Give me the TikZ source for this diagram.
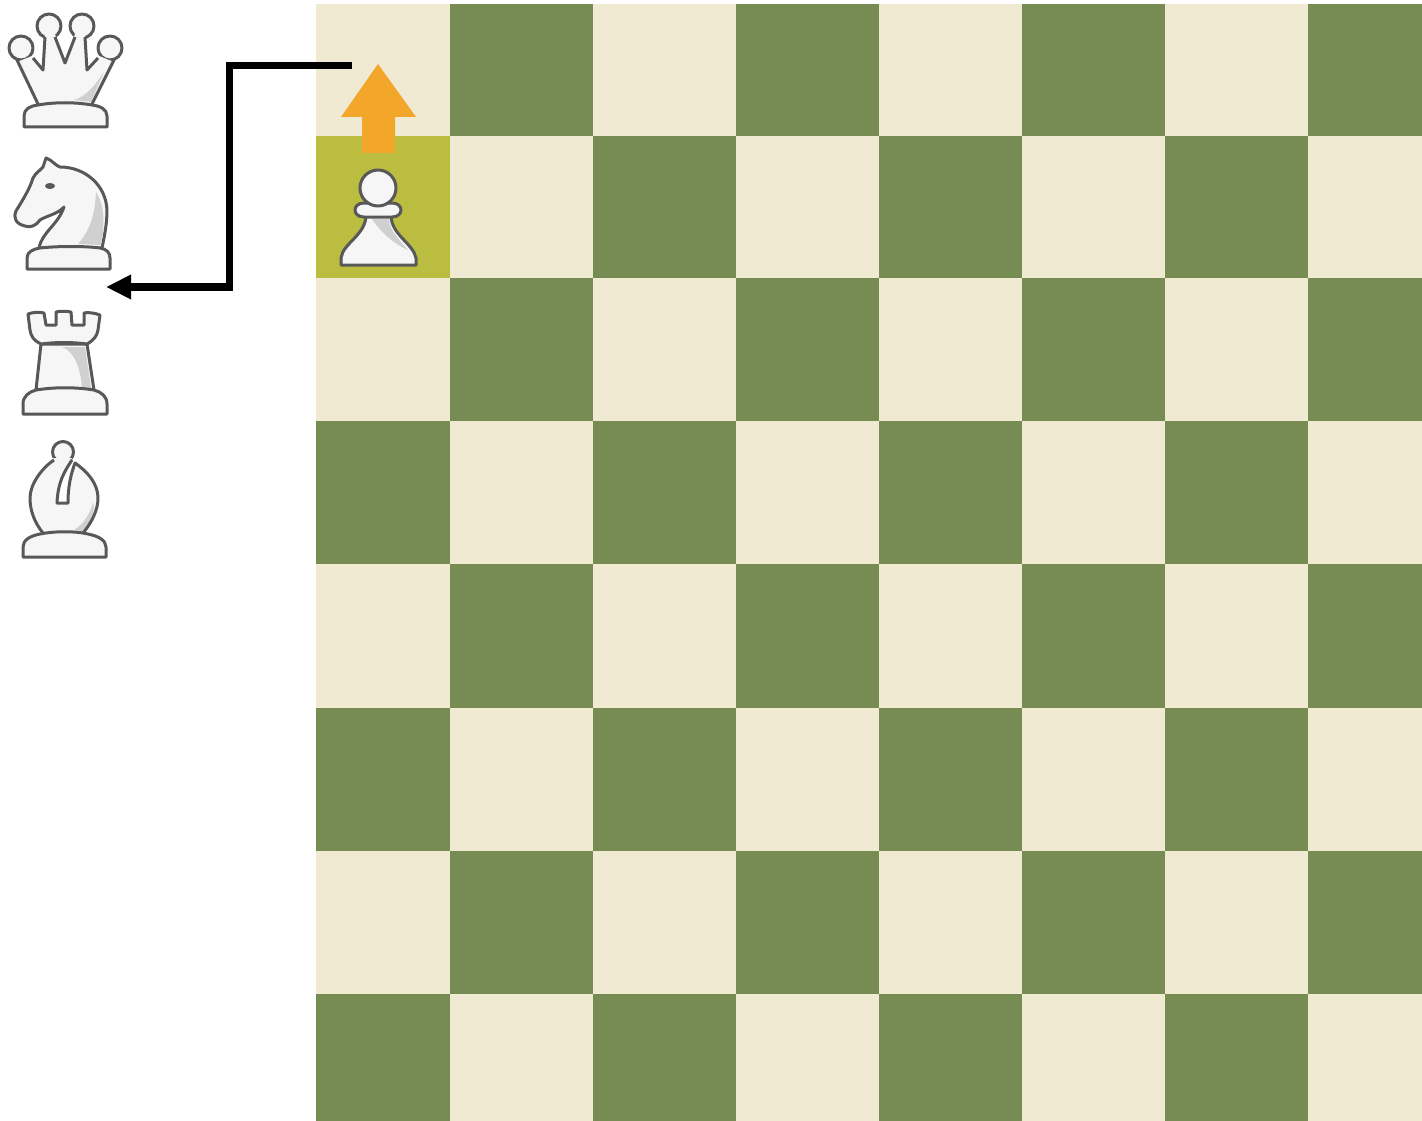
\documentclass[tikz,border=0pt]{standalone}
\usepackage{xcolor}
\usetikzlibrary{arrows.meta}
\definecolor{BoardLight}{RGB}{240,234,211}
\definecolor{BoardDark}{RGB}{118,140,83}
\definecolor{BoardMark}{RGB}{187,189,64}
\definecolor{MoveOrange}{RGB}{242,166,42}
\definecolor{PieceFill}{RGB}{246,246,246}
\definecolor{PieceEdge}{RGB}{88,88,88}
\definecolor{PieceShade}{RGB}{208,208,208}

\begin{document}
\begin{tikzpicture}[
x=1pt,
y=-1pt,
piece/.style={
draw=PieceEdge,
fill=PieceFill,
line width=3pt,
line join=round
},
pieceline/.style={
draw=PieceEdge,
line width=3pt,
line join=round
},
pieceshade/.style={
fill=PieceShade
},
link/.style={
draw=black,
line width=7.5pt,
line join=miter,
-{Triangle[length=25pt,width=23pt]}
}
]
\useasboundingbox (0,0) rectangle (1422,1121);
\fill[white] (0,0) rectangle (1422,1121);

% board
\fill[BoardLight] (316,4) rectangle (1422,1121);
\foreach \col/\xa/\xb in {0/316/450,1/450/593,2/593/736,3/736/879,4/879/1022,5/1022/1165,6/1165/1308,7/1308/1422} {
\foreach \row/\ya/\yb in {0/4/136,1/136/278,2/278/421,3/421/564,4/564/708,5/708/851,6/851/994,7/994/1121} {
\pgfmathparse{int(mod(\col+\row,2))}
\ifnum\pgfmathresult=1
\fill[BoardDark] (\xa,\ya) rectangle (\xb,\yb);
\fi
}
}
\fill[BoardMark] (316,136) rectangle (450,278);

% move arrow
\fill[MoveOrange] (378,64) -- (416,117) -- (395,117) -- (395,153) -- (362,153) -- (362,117) -- (341,117) -- cycle;

% pawn
\path[piece] (366,215) .. controls (366,235) and (343,243) .. (341,258) -- (341,265) -- (416,265) -- (416,258) .. controls (413,243) and (391,235) .. (391,215) -- cycle;
\fill[pieceshade] (372,219) -- (389,219) .. controls (390,232) and (400,240) .. (408,250) .. controls (396,245) and (382,234) .. (372,219) -- cycle;
\path[piece] (364,203) -- (392,203) .. controls (404,203) and (404,217) .. (392,217) -- (364,217) .. controls (352,217) and (352,203) .. (364,203) -- cycle;
\path[piece] (378,188) circle[radius=18];

% queen
\foreach \ballx/\bally in {21/48,49/26,82/26,110/48} {
\path[piece] (\ballx,\bally) circle[radius=12];
}
\fill[PieceFill] (38,104) -- (17,62) -- (32,56) -- (43,70) -- (45,34) -- (55,34) -- (65,63) -- (75,34) -- (85,34) -- (87,70) -- (99,56) -- (114,62) -- (92,104) -- cycle;
\fill[pieceshade] (74,100) .. controls (88,96) and (97,82) .. (104,72) -- (91,102) -- cycle;
\path[pieceline] (38,104) -- (17,60) (33,58) -- (43,70) -- (45,37) (55,37) -- (65,63) -- (75,37) (85,37) -- (87,70) -- (98,58) (114,60) -- (92,104);
\path[piece] (24,127) -- (24,116) .. controls (24,109) and (30,106) .. (38,105) .. controls (55,102) and (75,102) .. (92,105) .. controls (100,106) and (107,109) .. (107,116) -- (107,127) -- cycle;

% knight
\path[piece] (39,248) .. controls (42,232) and (58,225) .. (64,207) .. controls (58,214) and (46,216) .. (40,220) .. controls (36,226) and (30,228) .. (25,226) .. controls (16,224) and (13,218) .. (16,211) .. controls (24,198) and (30,188) .. (33,178) .. controls (36,172) and (41,170) .. (43,167) -- (46,158) .. controls (52,160) and (56,166) .. (60,167) .. controls (85,167) and (106,185) .. (107,210) .. controls (107,225) and (104,238) .. (102,248) -- cycle;
\fill[pieceshade] (78,244) .. controls (90,230) and (95,215) .. (96,192) .. controls (103,203) and (106,220) .. (101,245) -- cycle;
\fill[PieceEdge] (50,186) ellipse[x radius=5,y radius=3];
\path[piece] (27,269) -- (27,258) .. controls (27,252) and (33,249) .. (40,248) .. controls (58,246) and (85,246) .. (100,248) .. controls (106,249) and (110,252) .. (110,258) -- (110,269) -- cycle;

% rook
\path[piece] (36,390) -- (41,344) -- (87,344) -- (94,390) -- cycle;
\fill[pieceshade] (62,347) .. controls (76,352) and (81,372) .. (82,388) -- (91,388) -- (85,347) -- cycle;
\path[piece] (41,344) .. controls (33,340) and (31,336) .. (30,330) -- (28,314) .. controls (33,312) and (40,312) .. (44,313) -- (46,325) -- (56,325) -- (56,312) .. controls (60,311) and (67,311) .. (71,312) -- (72,325) -- (84,325) -- (84,313) .. controls (88,312) and (95,313) .. (100,315) -- (98,330) .. controls (97,336) and (94,340) .. (87,344) .. controls (72,342) and (56,342) .. (41,344) -- cycle;
\path[piece] (23,414) -- (23,404) .. controls (23,396) and (29,392) .. (36,390) .. controls (55,387) and (75,387) .. (94,390) .. controls (101,392) and (107,396) .. (107,404) -- (107,414) -- cycle;

% bishop
\path[piece] (63,452) circle[radius=10.5];
\fill[PieceFill] (43,533) .. controls (34,522) and (30,510) .. (30,498) .. controls (30,484) and (42,468) .. (54,458) -- (72,458) .. controls (64,472) and (58,482) .. (57,503) -- (68,503) .. controls (68,486) and (71,474) .. (75,463) .. controls (88,472) and (98,484) .. (98,498) .. controls (98,510) and (92,522) .. (83,533) -- cycle;
\fill[pieceshade] (74,530) .. controls (84,524) and (91,512) .. (93,502) .. controls (96,512) and (90,522) .. (82,531) -- cycle;
\path[pieceline] (43,533) .. controls (34,522) and (30,510) .. (30,498) .. controls (30,484) and (42,468) .. (54,460) (72,460) .. controls (64,472) and (58,482) .. (57,503) -- (68,503) .. controls (68,486) and (71,474) .. (75,463) .. controls (88,472) and (98,484) .. (98,498) .. controls (98,510) and (92,522) .. (83,533);
\path[piece] (23,557) -- (23,547) .. controls (23,540) and (30,536) .. (40,534) .. controls (55,531) and (75,531) .. (88,534) .. controls (98,536) and (106,540) .. (106,547) -- (106,557) -- cycle;

% promotion link
\coordinate (pawnend) at (352,65.5);
\coordinate (rookgap) at (106,287);
\draw[link] (pawnend) -- (229.5,65.5) -- (229.5,287) -- (rookgap);
\end{tikzpicture}
\end{document}
